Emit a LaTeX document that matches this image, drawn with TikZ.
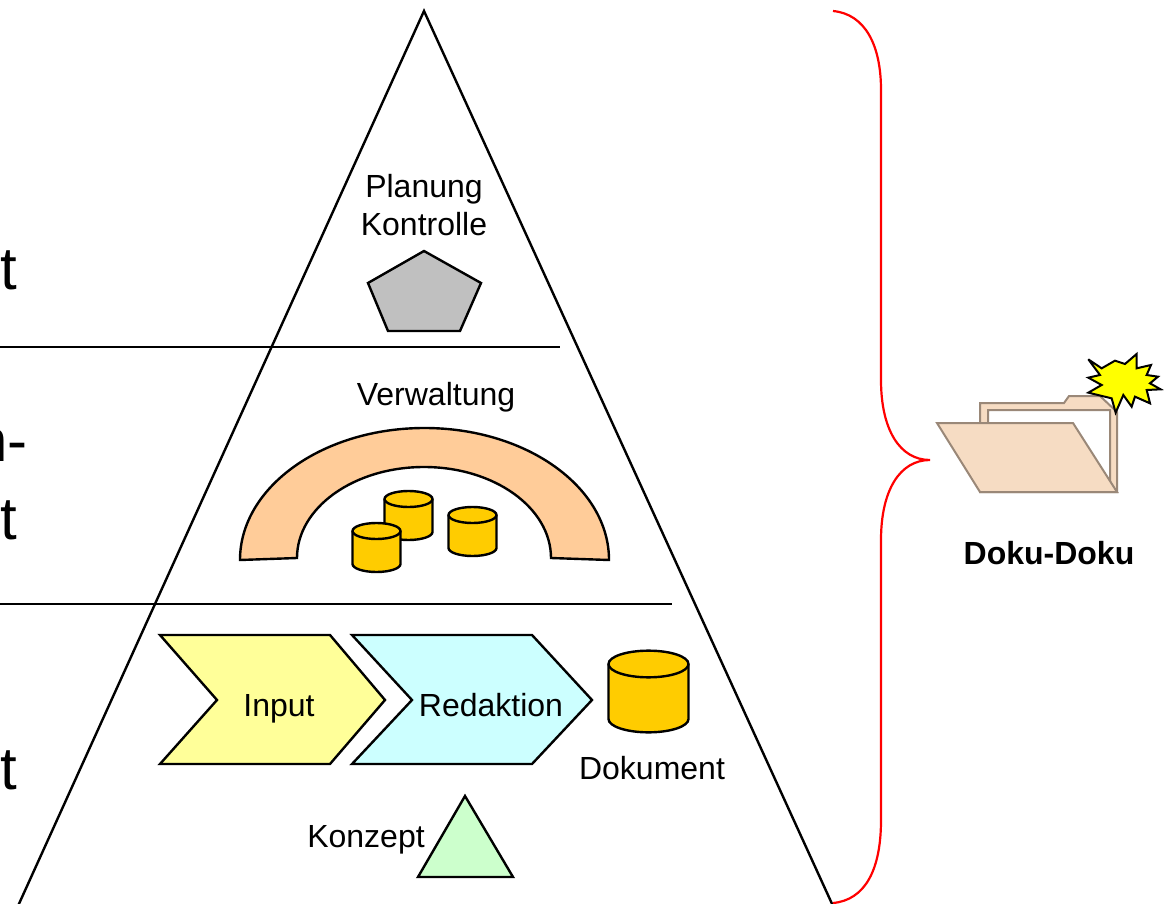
\documentclass[tikz,border=0pt]{standalone}
\usepackage{fontspec}
\setmainfont{Liberation Sans}
\definecolor{archfill}{HTML}{FFCC99}
\definecolor{barrelfill}{HTML}{FFCC00}
\definecolor{folderfill}{HTML}{F6DCC3}
\definecolor{folderline}{HTML}{9A8878}
\definecolor{inputfill}{HTML}{FFFF99}
\definecolor{redakfill}{HTML}{CCFFFF}
\definecolor{konzeptfill}{HTML}{CCFFCC}
\definecolor{planfill}{HTML}{C0C0C0}
\definecolor{starfill}{HTML}{FFFF00}
\tikzset{
  lbl/.style={font=\fontsize{32}{36}\selectfont,inner sep=0pt,anchor=base},
  bigtxt/.style={font=\fontsize{60}{70}\selectfont,inner sep=0pt,anchor=base east},
  outline/.style={draw=black,line width=2.4pt,line join=miter},
  barrel/.pic={
    \draw[outline,fill=barrelfill] (-24,-16.5)--(-24,16.5) arc[start angle=180,end angle=0,x radius=24,y radius=8] %
    --(24,-16.5) arc[start angle=0,end angle=-180,x radius=24,y radius=8]--cycle ;
    \draw[outline] (-24,-16.5) arc[start angle=180,end angle=0,x radius=24,y radius=8] ;
  }
}
\begin{document}
\begin{tikzpicture}[x=1pt,y=-1pt]
      \useasboundingbox (0,0) rectangle (1164,904) ;
      % pyramid
      \coordinate (apex) at (424,11) ;
      \coordinate (baseL) at (18,906) ;
      \coordinate (baseR) at (833,906) ;
      \draw[outline] (baseL)--(apex)--(baseR) ;
      \draw[outline] (-5,347)--(560,347) ;
      \draw[outline] (-5,604)--(672,604) ;
      % left texts, cut by the page
      \node[bigtxt] (txtA) at (17,289) {t} ;
      \node[bigtxt] (txtB) at (28,461) {n-} ;
      \node[bigtxt] (txtC) at (17,539) {t} ;
      \node[bigtxt] (txtD) at (17,789) {t} ;
      % top level
      \node[lbl] (planung) at (424,198) {Planung} ;
      \node[lbl] (kontrolle) at (424,235) {Kontrolle} ;
      \draw[outline,fill=planfill] (424,251)--(481,283)--(460,331)--(388,331)--(368,283)--cycle ;
      % middle level
      \node[lbl] (verwaltung) at (436,405) {Verwaltung} ;
      \draw[outline,fill=archfill] (240,560) arc[start angle=180,end angle=360,x radius=184.5,y radius=132] %
      --(551,558) arc[start angle=0,end angle=-180,x radius=127,y radius=91]--cycle ;
      \pic (barrelA) at (408.5,515.5) {barrel} ;
      \pic (barrelB) at (376.5,547.5) {barrel} ;
      \pic (barrelC) at (472.5,531.5) {barrel} ;
      % bottom level
      \draw[outline,fill=inputfill] (160,635)--(330,635)--(385,700)--(330,764)--(160,764)--(217,700)--cycle ;
      \draw[outline,fill=redakfill] (352,635)--(532,635)--(592,700)--(532,764)--(352,764)--(412,700)--cycle ;
      \node[lbl] (input) at (279,716) {Input} ;
      \node[lbl] (redaktion) at (491,716) {Redaktion} ;
      \pic[scale=1.667] (dokbarrel) at (648.5,691.5) {barrel} ;
      \node[lbl] (dokument) at (652,779) {Dokument} ;
      \draw[outline,fill=konzeptfill] (465,796)--(513,877)--(418,877)--cycle ;
      \node[lbl] (konzept) at (366,847) {Konzept} ;
      % brace
      \draw[red,line width=2.2pt] (833,11) .. controls (865,14) and (881,45) .. (881,90) %
      --(881,380) .. controls (881,430) and (900,460) .. (930,460) %
      .. controls (900,460) and (881,490) .. (881,540) %
      --(881,820) .. controls (881,870) and (865,900) .. (833,903) ;
      % folder
      \draw[folderline,line width=2pt,fill=folderfill] (980,492)--(980,403)--(1064,403)--(1069,396) %
      --(1100,396)--(1117,412)--(1117,492)--cycle ;
      \draw[folderline,line width=2pt,fill=white] (988,425)--(988,410)--(1110,410)--(1110,482)--cycle ;
      \draw[folderline,line width=2pt,fill=folderfill] (937,423)--(1073,423)--(1117,492)--(980,492)--cycle ;
      \begin{scope}[shift={(920,340)},x=0.3333pt,y=-0.3333pt]
        \draw[black,line width=2pt,miter limit=4,fill=starfill] (505,58)--(545,85)--(585,62)--(615,72)--(650,42)--(650,85) %
        --(693,75)--(680,105)--(714,110)--(690,130)--(722,148)--(680,150)--(690,190)--(645,170)--(635,200) %
        --(610,165)--(587,218)--(575,175)--(505,158)--(545,135)--(505,113)--(540,105)--cycle ;
      \end{scope}
      \node[lbl,font=\fontsize{32}{36}\selectfont\bfseries] (dokudoku) at (1049,564) {Doku-Doku} ;
    \end{tikzpicture}
\end{document}
